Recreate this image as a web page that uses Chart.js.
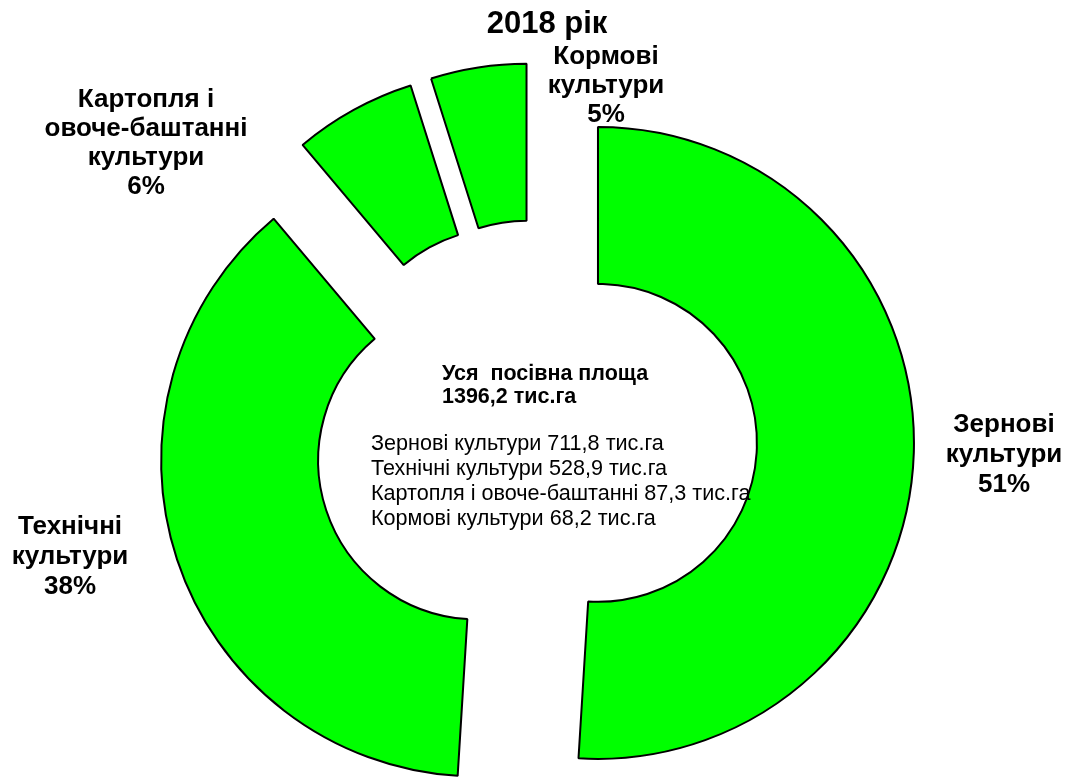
<!DOCTYPE html>
<html>
<head>
<meta charset="utf-8">
<script src="https://cdn.jsdelivr.net/npm/chart.js@4"></script>
<style>
    html, body { margin: 0; padding: 0; background: #fff; }
    #wrap { width: 1071px; height: 778px; position: relative; }
</style>
</head>
<body>
<div id="wrap"><canvas id="chart"></canvas></div>
<script>
    // Data
    const chartTitle = '2018 рік';
    const categories = ['Зернові культури', 'Технічні культури', 'Картопля і овоче-баштанні', 'Кормові культури'];
    const areas = [711.8, 528.9, 87.3, 68.2];
    const shares = [51, 38, 6, 5];
    const totalArea = '1396,2';
    const sliceLabels = [
        ['Зернові', 'культури'],
        ['Технічні', 'культури'],
        ['Картопля і', 'овоче-баштанні', 'культури'],
        ['Кормові', 'культури']
    ];

    // Where the outside labels sit (centre x, first baseline y, line height)
    const labelPos = [
        { x: 1004, y: 432, lh: 30 },
        { x: 70, y: 534, lh: 30 },
        { x: 146, y: 107, lh: 29 },
        { x: 606, y: 64, lh: 29 }
    ];

    const FONT = '"Liberation Sans", Arial, sans-serif';
    const EXPLODE = 62;

    // push every slice out along its own middle angle
    const explodePlugin = {
        id: 'explodePlugin',
        afterDatasetUpdate(chart, args) {
            const meta = chart.getDatasetMeta(args.index);
            meta.data.forEach(arc => {
                const mid = (arc.startAngle + arc.endAngle) / 2;
                arc.x += Math.cos(mid) * EXPLODE;
                arc.y += Math.sin(mid) * EXPLODE;
            });
        }
    };

    const textPlugin = {
        id: 'textPlugin',
        afterDatasetsDraw(chart) {
            const ctx = chart.ctx;
            ctx.save();
            ctx.fillStyle = '#000';
            ctx.textAlign = 'center';
            ctx.textBaseline = 'alphabetic';

            // title
            ctx.font = 'bold 31px ' + FONT;
            ctx.fillText(chartTitle, 547, 33);

            // slice labels
            ctx.font = 'bold 26px ' + FONT;
            sliceLabels.forEach((lines, i) => {
                const p = labelPos[i];
                const all = lines.concat([shares[i] + '%']);
                all.forEach((t, j) => ctx.fillText(t, p.x, p.y + j * p.lh));
            });

            // centre text
            ctx.textAlign = 'left';
            ctx.font = 'bold 21.5px ' + FONT;
            ctx.fillText('Уся  посівна площа', 442, 380);
            ctx.fillText(totalArea + ' тис.га', 442, 403);

            ctx.font = '21.6px ' + FONT;
            categories.forEach((c, i) => {
                const v = areas[i].toFixed(1).replace('.', ',');
                ctx.fillText(c + ' ' + v + ' тис.га', 371, 450 + i * 25);
            });
            ctx.restore();
        }
    };

    new Chart(document.getElementById('chart'), {
        type: 'doughnut',
        data: {
            labels: categories,
            datasets: [{
                data: areas,
                backgroundColor: '#00ff00',
                borderColor: '#000000',
                borderWidth: 2,
                offset: 0,
                hoverOffset: 0,
                clip: false
            }]
        },
        options: {
            responsive: true,
            maintainAspectRatio: false,
            animation: false,
            events: [],
            radius: 316,
            cutout: '50.3%',
            layout: { padding: { top: 104, bottom: 0, left: 1, right: 0 } },
            plugins: {
                legend: { display: false },
                title: { display: false },
                tooltip: { enabled: false }
            }
        },
        plugins: [explodePlugin, textPlugin]
    });
</script>
</body>
</html>
